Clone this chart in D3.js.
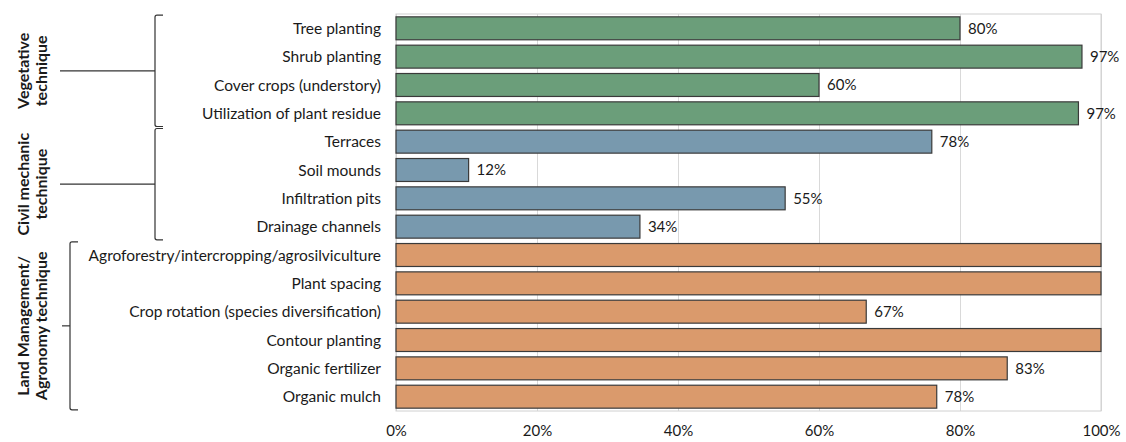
<!DOCTYPE html>
<html>
<head>
<meta charset="utf-8">
<script src="https://cdn.jsdelivr.net/npm/d3@7"></script>
<style>
  body { margin: 0; background: #fff; }
  text { font-family: Lato, "Open Sans", sans-serif; fill: #1a1a1a; }
</style>
</head>
<body>
<div class="box"></div>
<script>
// data
const categories = [
  'Tree planting', 'Shrub planting', 'Cover crops (understory)', 'Utilization of plant residue',
  'Terraces', 'Soil mounds', 'Infiltration pits', 'Drainage channels',
  'Agroforestry/intercropping/agrosilviculture', 'Plant spacing', 'Crop rotation (species diversification)',
  'Contour planting', 'Organic fertilizer', 'Organic mulch'
];
// bar lengths as drawn (%)
const shares = [80, 97.3, 60, 96.8, 76, 10.3, 55.2, 34.6, 100, 100, 66.7, 100, 86.7, 76.7];
// printed labels (none on the full bars)
const shareLabels = ['80%', '97%', '60%', '97%', '78%', '12%', '55%', '34%', '', '', '67%', '', '83%', '78%'];
const groupOf = [0, 0, 0, 0, 1, 1, 1, 1, 2, 2, 2, 2, 2, 2];
const groupNames = [['Vegetative', 'technique'], ['Civil mechanic', 'technique'], ['Land Management/', 'Agronomy technique']];
const groupColors = ['#6b9e7a', '#7899ae', '#da9a6c'];
const xTicks = [0, 20, 40, 60, 80, 100];

const W = 1126, H = 442;
const plot = {left: 396, right: 1101, top: 14, bottom: 411};

const svg = d3.select('.box')
              .append('svg')
              .attr('width', W)
              .attr('height', H)
              .style('display', 'block');

const x = d3.scaleLinear()
            .domain([0, 100])
            .range([plot.left, plot.right]);

const y = d3.scaleBand()
            .domain(categories)
            .range([plot.top, plot.bottom])
            .paddingInner(0.19)
            .paddingOuter(0.1);

// gridlines
const grid = svg.append('g')
                .attr('transform', `translate(0, ${plot.bottom})`)
                .call(d3.axisBottom(x).tickValues(xTicks).tickSize(-(plot.bottom - plot.top)).tickFormat(''));
grid.select('.domain').remove();
grid.selectAll('line').attr('stroke', '#d9d9d9');

// plot frame
svg.append('rect')
   .attr('x', plot.left)
   .attr('y', plot.top)
   .attr('width', plot.right - plot.left)
   .attr('height', plot.bottom - plot.top)
   .attr('fill', 'none')
   .attr('stroke', '#d0d0d0');

// bars
svg.selectAll('.bar')
   .data(categories)
   .enter()
   .append('rect')
   .attr('class', 'bar')
   .attr('x', x(0))
   .attr('y', d => y(d))
   .attr('width', (d, i) => x(shares[i]) - x(0))
   .attr('height', y.bandwidth())
   .attr('fill', (d, i) => groupColors[groupOf[i]])
   .attr('stroke', '#3a3a3a')
   .attr('stroke-width', 1.2);

// value labels
svg.selectAll('.val')
   .data(categories)
   .enter()
   .append('text')
   .attr('class', 'val')
   .attr('x', (d, i) => x(shares[i]) + 8)
   .attr('y', d => y(d) + y.bandwidth() / 2)
   .attr('dy', '0.36em')
   .style('font-size', '15px')
   .text((d, i) => shareLabels[i]);

// category labels
svg.selectAll('.cat')
   .data(categories)
   .enter()
   .append('text')
   .attr('class', 'cat')
   .attr('x', 381)
   .attr('y', d => y(d) + y.bandwidth() / 2)
   .attr('dy', '0.36em')
   .attr('text-anchor', 'end')
   .style('font-size', '15.5px')
   .text(d => d);

// x axis
const axeX = svg.append('g')
                .attr('transform', `translate(0, ${plot.bottom})`)
                .call(d3.axisBottom(x).tickValues(xTicks).tickSize(0).tickPadding(14).tickFormat(d => d + '%'));
axeX.select('.domain').remove();
axeX.selectAll('text')
    .style('font-size', '15px')
    .style('font-family', 'Lato, "Open Sans", sans-serif')
    .attr('fill', '#1a1a1a');

// group brackets
const bracketX = [155, 155, 70];
const stemStart = [60, 60, 62];
const labelX = [32, 32, 32];

groupNames.forEach((names, g) => {
  const members = categories.filter((c, i) => groupOf[i] === g);
  const y0 = y(members[0]) - y.step() * y.paddingInner() / 2 + 1;
  const y1 = y(members[members.length - 1]) + y.bandwidth() + y.step() * y.paddingInner() / 2 - 1;
  const bx = bracketX[g];
  const mid = (y0 + y1) / 2;
  svg.append('path')
     .attr('d', `M${bx + 8},${y0} L${bx + 2},${y0} Q${bx},${y0} ${bx},${y0 + 2} L${bx},${y1 - 2} Q${bx},${y1} ${bx + 2},${y1} L${bx + 8},${y1}`)
     .attr('fill', 'none')
     .attr('stroke', '#333')
     .attr('stroke-width', 1.2);
  svg.append('line')
     .attr('x1', stemStart[g])
     .attr('x2', bx)
     .attr('y1', mid)
     .attr('y2', mid)
     .attr('stroke', '#333')
     .attr('stroke-width', 1.2);
  const t = svg.append('text')
               .attr('transform', `translate(${labelX[g]}, ${mid}) rotate(-90)`)
               .attr('text-anchor', 'middle')
               .style('font-size', '16px')
               .style('font-weight', 'bold');
  t.append('tspan').attr('x', 0).attr('dy', '-0.2em').text(names[0]);
  t.append('tspan').attr('x', 0).attr('dy', '1.12em').text(names[1]);
});
</script>
</body>
</html>
